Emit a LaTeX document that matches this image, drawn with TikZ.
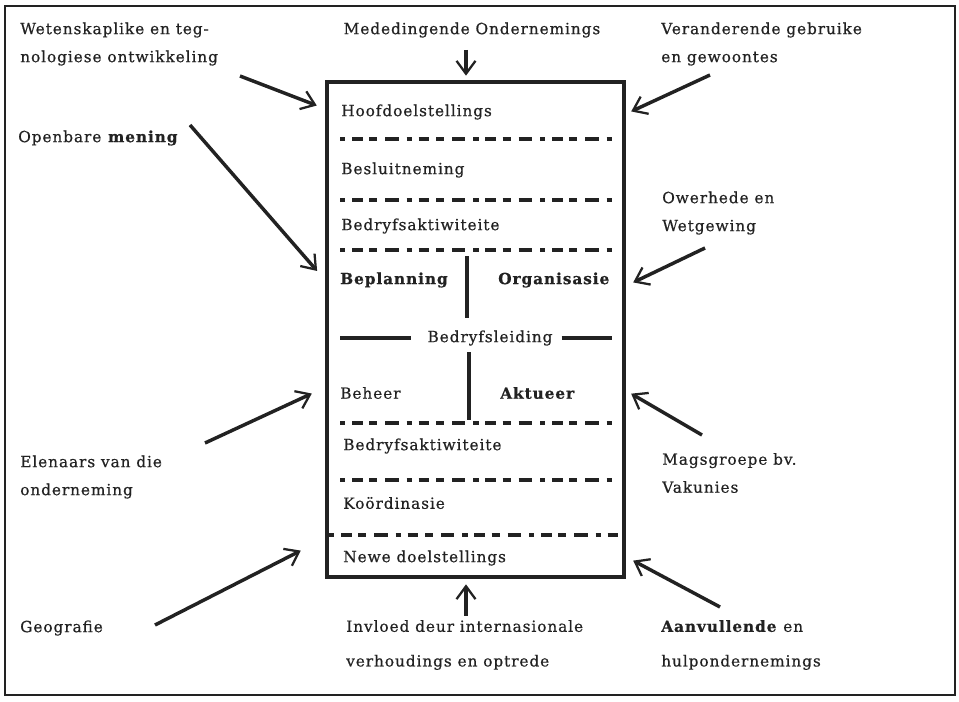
\documentclass[tikz,border=0pt]{standalone}
\usepackage{fontspec}
\setmainfont{DejaVu Serif}[LetterSpace=6, FakeBold=0.6]
\usepackage{tikz}
\usetikzlibrary{arrows.meta, positioning, calc}
\definecolor{inkBlack}{HTML}{222222}
\tikzset{
  lbl/.style={anchor=west, align=left, inner sep=0pt, text=inkBlack,
              font=\fontsize{11.5}{21}\selectfont},
  boxlbl/.style={lbl, font=\fontsize{11.5}{14}\selectfont},
  push/.style={-{Straight Barb[length=3.4mm, width=5mm, line width=1.7pt]},
               line width=2.6pt, draw=inkBlack, shorten >=1pt},
  sep/.style={line width=2.4pt, draw=inkBlack,
              dash pattern=on 4pt off 5pt on 8pt off 5pt on 6pt off 6pt on 10pt off 6pt},
  rule/.style={line width=2.4pt, draw=inkBlack},
}

\begin{document}
\begin{tikzpicture}[x=0.75pt, y=-0.75pt]
\useasboundingbox (0,0) rectangle (959,702);
\draw[line width=1.6pt, inkBlack] (5,6) rectangle (955,695);

% central box
\draw[line width=2.4pt, inkBlack] (327,82) rectangle (624,577);
\coordinate (boxN) at (466,82);
\coordinate (boxS) at (466,577);

\node[boxlbl] (hoof) at (341,112) {Hoofdoelstellings};
\node[boxlbl] (besluit) at (341,170) {Besluitneming};
\node[boxlbl] (aktA) at (341,226) {Bedryfsaktiwiteite};
\node[boxlbl, font=\fontsize{11.5}{14}\selectfont\bfseries] (beplan) at (340,280) {Beplanning};
\node[boxlbl, font=\fontsize{11.5}{14}\selectfont\bfseries] (organ) at (498,280) {Organisasie};
\node[boxlbl, anchor=center] (leiding) at (490,338) {Bedryfsleiding};
\node[boxlbl] (beheer) at (340,393) {Beheer};
\node[boxlbl, font=\fontsize{11.5}{14}\selectfont\bfseries] (aktueer) at (500,393) {Aktueer};
\node[boxlbl] (aktB) at (343,446) {Bedryfsaktiwiteite};
\node[boxlbl] (koord) at (343,503) {Koördinasie};
\node[boxlbl] (newe) at (343,558) {Newe doelstellings};

% skeidslyne
\foreach \yy/\xa/\xb in {139/340/612, 200/340/612, 250/340/612, 423/340/612, 480/340/612, 535/329/622}
  \draw[sep] (\xa,\yy) -- (\xb,\yy);
\draw[rule] (467,256) -- (467,318);
\draw[rule] (469,352) -- (469,420);
\draw[rule, line width=3pt] (340,338) -- ($(leiding.west)+(-16,0)$);
\draw[rule, line width=3pt] ($(leiding.east)+(9,0)$) -- (612,338);

% invloede
\node[lbl] (weten) at (20,44) {Wetenskaplike en teg-\\nologiese ontwikkeling};
\node[lbl, anchor=center] (mededing) at (472,30) {Mededingende Ondernemings};
\node[lbl] (gebruike) at (661,44) {Veranderende gebruike\\en gewoontes};
\node[lbl] (openbaar) at (18,138) {Openbare \textbf{mening}};
\node[lbl] (owerhede) at (662,213) {Owerhede en\\Wetgewing};
\node[lbl] (eienaars) at (20,477) {Elenaars van die\\onderneming};
\node[lbl] (mags) at (662,473) {Magsgroepe bv.\\Vakunies};
\node[lbl] (geo) at (20,628) {Geografie};
\node[lbl, font=\fontsize{11.5}{26}\selectfont] (invloed) at (346,645) {Invloed deur internasionale\\verhoudings en optrede};
\node[lbl, font=\fontsize{11.5}{26}\selectfont] (aanvul) at (661,645) {\textbf{Aanvullende} en\\hulpondernemings};

\coordinate (wetenT) at (240,76);   \coordinate (wetenH) at (318,106);
\coordinate (gebruikeT) at (710,75); \coordinate (gebruikeH) at (630,112);
\coordinate (openbaarT) at (190,125); \coordinate (openbaarH) at (318,272);
\coordinate (owerhedeT) at (705,248); \coordinate (owerhedeH) at (632,283);
\coordinate (eienaarsT) at (205,443); \coordinate (eienaarsH) at (313,393);
\coordinate (magsT) at (702,435);   \coordinate (magsH) at (630,393);
\coordinate (geoT) at (155,625);    \coordinate (geoH) at (302,550);
\coordinate (aanvulT) at (720,607); \coordinate (aanvulH) at (632,560);

\draw[push] (wetenT) -- (wetenH);
\draw[push] ($(mededing.south -| boxN)+(0,12)$) -- ($(boxN)+(0,-5)$);
\draw[push] (gebruikeT) -- (gebruikeH);
\draw[push] (openbaarT) -- (openbaarH);
\draw[push] (owerhedeT) -- (owerhedeH);
\draw[push] (eienaarsT) -- (eienaarsH);
\draw[push] (magsT) -- (magsH);
\draw[push] (geoT) -- (geoH);
\draw[push] ($(invloed.north -| boxS)+(0,-4)$) -- ($(boxS)+(0,6)$);
\draw[push] (aanvulT) -- (aanvulH);
\end{tikzpicture}
\end{document}
